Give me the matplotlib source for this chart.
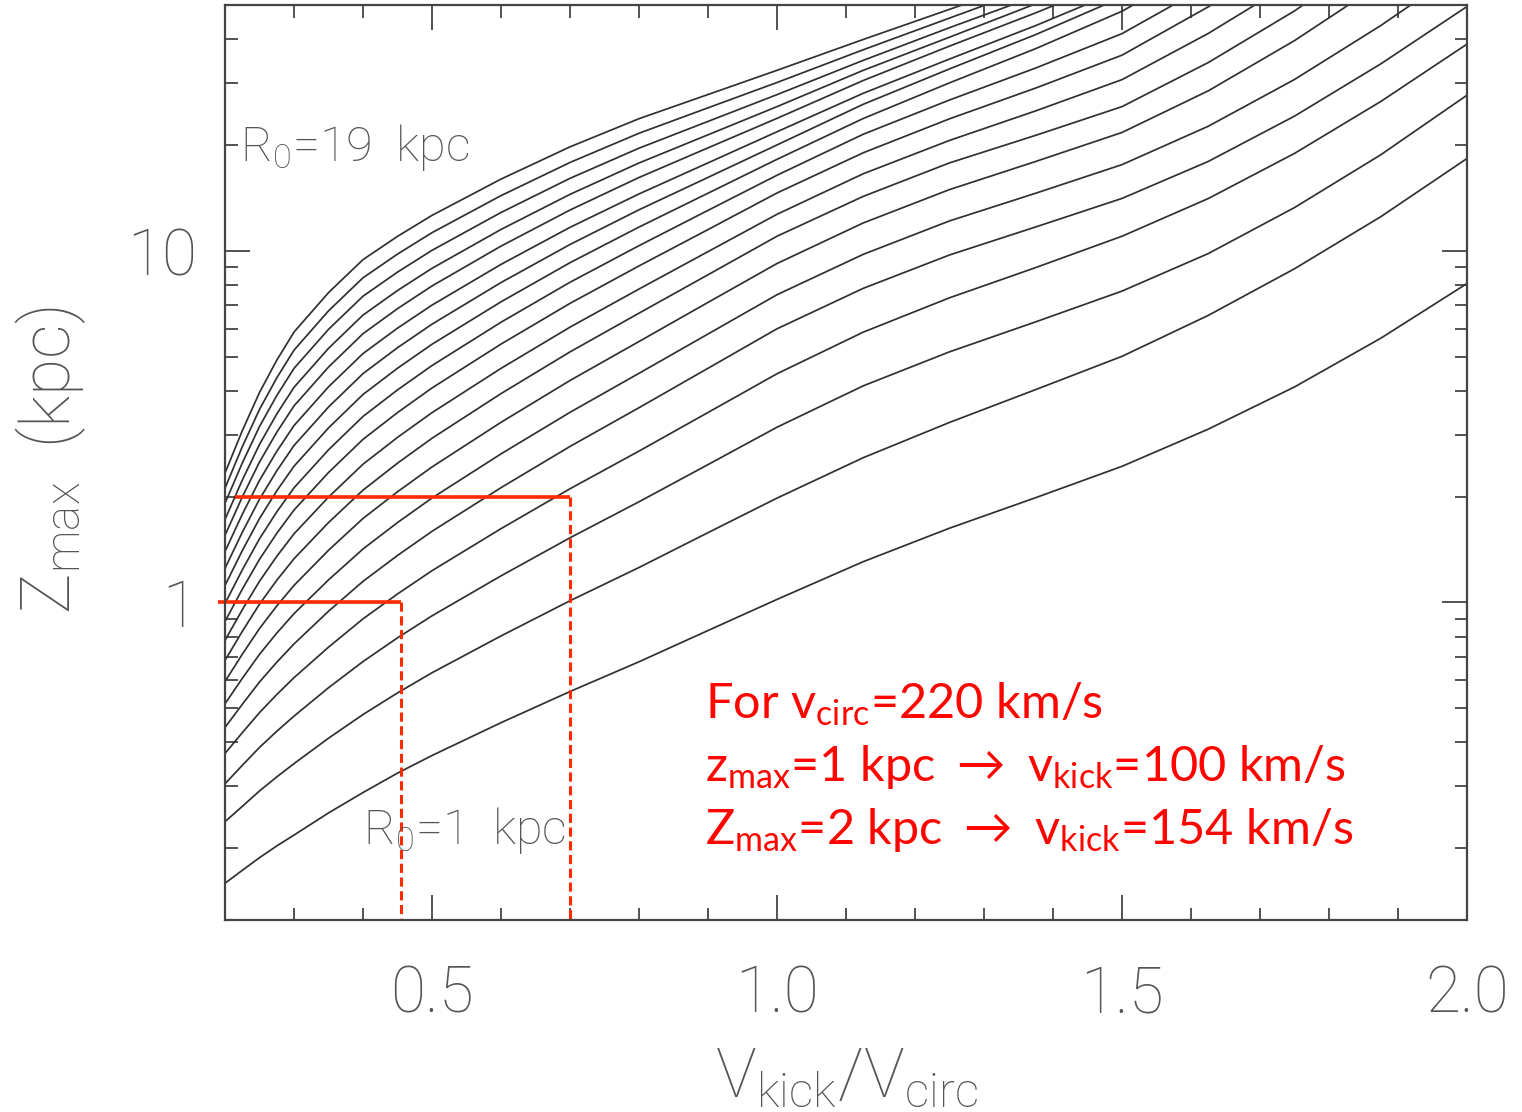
import matplotlib
matplotlib.use('Agg')
import matplotlib.pyplot as plt
from matplotlib.ticker import FixedLocator, FixedFormatter, MultipleLocator, LogLocator, NullFormatter

plt.rcParams['font.family'] = ['Roboto', 'DejaVu Sans']
plt.rcParams['mathtext.default'] = 'regular'

nan = float('nan')

# v_kick / v_circ sample points
ratio = [0.2, 0.225, 0.25, 0.275, 0.3, 0.35, 0.4, 0.45, 0.5, 0.6, 0.7, 0.8, 0.9, 1.0,
         1.125, 1.25, 1.375, 1.5, 1.625, 1.75, 1.875, 2.0]

# maximum height z_max (kpc) reached for launch radius R0 = 1 ... 19 kpc
zmax_r1 = [0.159, 0.173, 0.188, 0.203, 0.218, 0.252, 0.288, 0.327, 0.367, 0.455, 0.558, 0.678, 0.832, 1.02,
           1.306, 1.626, 1.986, 2.438, 3.11, 4.10, 5.64, 8.07]
zmax_r2 = [0.238, 0.263, 0.291, 0.319, 0.348, 0.411, 0.480, 0.553, 0.631, 0.803, 1.011, 1.257, 1.579, 1.98,
           2.58, 3.25, 4.03, 5.01, 6.55, 8.89, 12.5, 18.3]
zmax_r3 = [0.305, 0.344, 0.387, 0.430, 0.475, 0.572, 0.679, 0.793, 0.916, 1.190, 1.527, 1.933, 2.466, 3.15,
           4.13, 5.16, 6.28, 7.68, 9.82, 13.27, 18.75, 27.7]
zmax_r4 = [0.372, 0.426, 0.486, 0.547, 0.611, 0.746, 0.898, 1.057, 1.231, 1.621, 2.105, 2.694, 3.469, 4.47,
           5.87, 7.35, 8.96, 11.0, 14.08, 18.92, 26.58, 38.7]
zmax_r5 = [0.441, 0.513, 0.594, 0.676, 0.762, 0.944, 1.148, 1.360, 1.593, 2.120, 2.777, 3.579, 4.633, 6.0,
           7.82, 9.73, 11.69, 14.09, 17.95, 24.15, 34.0, 49.5]
zmax_r6 = [0.515, 0.608, 0.712, 0.818, 0.929, 1.159, 1.419, 1.687, 1.981, 2.645, 3.472, 4.483, 5.799, 7.5,
           9.77, 12.16, 14.58, 17.58, 22.6, 30.7, 43.7, 64.4]
zmax_r7 = [0.596, 0.712, 0.843, 0.977, 1.118, 1.407, 1.733, 2.064, 2.428, 3.252, 4.277, 5.521, 7.132, 9.2,
           12.0, 14.93, 17.95, 21.7, 28.5, 39.6, 57.5, nan]
zmax_r8 = [0.684, 0.827, 0.989, 1.156, 1.331, 1.687, 2.086, 2.489, 2.930, 3.925, 5.158, 6.647, 8.547, 11.0,
           14.28, 17.78, 21.3, 25.7, 34.3, 48.1, 71.0, nan]
zmax_r9 = [0.780, 0.953, 1.149, 1.352, 1.567, 1.993, 2.472, 2.947, 3.465, 4.630, 6.065, 7.785, 9.945, 12.7,
           16.56, 20.6, 25.0, 30.67, 41.5, 58.6, nan, nan]
zmax_r10 = [0.883, 1.090, 1.326, 1.572, 1.831, 2.341, 2.909, 3.466, 4.073, 5.428, 7.087, 9.056, 11.49, 14.6,
            19.0, 23.73, 29.03, 36.0, 49.4, 69.8, nan, nan]
zmax_r11 = [0.993, 1.237, 1.517, 1.809, 2.118, 2.716, 3.380, 4.021, 4.717, 6.263, 8.137, 10.34, 13.03, 16.4,
            21.45, 26.84, 33.1, 41.45, 56.9, nan, nan, nan]
zmax_r12 = [1.117, 1.403, 1.732, 2.076, 2.440, 3.135, 3.903, 4.634, 5.422, 7.159, 9.250, 11.68, 14.58, 18.2,
            23.78, 30.03, 37.58, 48.0, 65.8, nan, nan, nan]
zmax_r13 = [1.250, 1.582, 1.966, 2.367, 2.794, 3.595, 4.474, 5.301, 6.184, 8.122, 10.42, 13.08, 16.17, 20.0,
            26.1, 32.9, 41.2, 52.6, nan, nan, nan, nan]
zmax_r14 = [1.396, 1.780, 2.224, 2.689, 3.184, 4.103, 5.102, 6.025, 7.007, 9.148, 11.66, 14.51, 17.78, 21.8,
            28.05, 35.1, 43.7, 55.3, nan, nan, nan, nan]
zmax_r15 = [1.552, 1.994, 2.508, 3.047, 3.621, 4.670, 5.810, 6.846, 7.943, 10.31, 13.06, 16.16, 19.62, 23.8,
            30.5, 38.2, 47.5, 59.8, nan, nan, nan, nan]
zmax_r16 = [1.722, 2.226, 2.814, 3.433, 4.090, 5.279, 6.564, 7.709, 8.915, 11.50, 14.47, 17.77, 21.37, 25.7,
            32.6, 40.5, 50.4, nan, nan, nan, nan, nan]
zmax_r17 = [1.914, 2.490, 3.164, 3.874, 4.629, 5.979, 7.427, 8.697, 10.03, 12.85, 16.07, 19.58, 23.33, 27.8,
            34.8, 43.1, 53.0, nan, nan, nan, nan, nan]
zmax_r18 = [2.113, 2.770, 3.539, 4.350, 5.217, 6.747, 8.379, 9.786, 11.26, 14.35, 17.83, 21.59, 25.50, 30.1,
            37.3, 45.9, 56.4, nan, nan, nan, nan, nan]
zmax_r19 = [2.333, 3.077, 3.954, 4.884, 5.873, 7.603, 9.438, 10.99, 12.61, 15.99, 19.75, 23.75, 27.82, 32.6,
            39.9, 48.6, 59.1, nan, nan, nan, nan, nan]

curves = [zmax_r1, zmax_r2, zmax_r3, zmax_r4, zmax_r5, zmax_r6, zmax_r7,
          zmax_r8, zmax_r9, zmax_r10, zmax_r11, zmax_r12, zmax_r13,
          zmax_r14, zmax_r15, zmax_r16, zmax_r17, zmax_r18, zmax_r19]

# example kicks for v_circ = 220 km/s
vcirc = 220.0
vkick = [100.0, 154.0]
zmark = [1.0, 2.0]
zline_start = [0.19, 0.215]

xticks = [0.5, 1.0, 1.5, 2.0]
xticklabels = ['0.5', '1.0', '1.5', '2.0']
yticks = [1, 10]
yticklabels = ['1', '10']

fig = plt.figure(figsize=(15.22, 11.12), dpi=100)
ax = fig.add_axes([225 / 1522, 1 - 920 / 1112, (1467 - 225) / 1522, (920 - 5) / 1112])

for z in curves:
    ax.plot(ratio, z, color='#303030', lw=1.25)

ax.set_yscale('log')
ax.set_xlim(0.2, 2.0)
ax.set_ylim(0.125, 50)

ax.xaxis.set_major_locator(FixedLocator(xticks))
ax.xaxis.set_major_formatter(FixedFormatter(xticklabels))
ax.xaxis.set_minor_locator(MultipleLocator(0.1))
ax.yaxis.set_major_locator(FixedLocator(yticks))
ax.yaxis.set_major_formatter(FixedFormatter(yticklabels))
ax.yaxis.set_minor_locator(LogLocator(base=10, subs=range(2, 10)))
ax.yaxis.set_minor_formatter(NullFormatter())

ax.tick_params(which='both', direction='in', top=True, right=True,
               color='#444444', width=1.3, labelcolor='#555555', labelsize=46)
ax.tick_params(which='major', length=18)
ax.tick_params(which='minor', length=9)
ax.tick_params(axis='x', pad=31)
ax.tick_params(axis='y', pad=20)
for lab in ax.get_xticklabels() + ax.get_yticklabels():
    lab.set_fontweight('light')
for sp in ax.spines.values():
    sp.set_color('#444444')
    sp.set_linewidth(1.6)

# red guide lines
red = '#ff2a00'
for vk, zm, x0 in zip(vkick, zmark, zline_start):
    xr = vk / vcirc
    ax.plot([x0, xr], [zm, zm], color=red, lw=2.6, clip_on=False, solid_capstyle='butt')
    ax.plot([xr, xr], [zm, 0.125], color=red, lw=2.2, ls=(0, (3, 1.5)), clip_on=False)

grey = '#555555'
ax.text(0.222, 19.7, 'R$_0$=19  kpc', fontsize=35, color=grey, fontweight='light',
        ha='left', va='center')
ax.text(0.40, 0.224, 'R$_0$=1  kpc', fontsize=35, color=grey, fontweight='light',
        ha='left', va='center')

fig.text(846 / 1522, 1 - 1097 / 1112, 'V$_{kick}$/V$_{circ}$', fontsize=49,
         color=grey, fontweight='light', ha='center', va='baseline')
fig.text(70 / 1522, 1 - 460 / 1112, 'Z$_{max}$  (kpc)', fontsize=49, color=grey,
         fontweight='light', rotation=90, rotation_mode='anchor',
         ha='center', va='baseline')

notes = ['For v$_{circ}$=220 km/s',
         'z$_{max}$=1 kpc $\\rightarrow$ v$_{kick}$=100 km/s',
         'Z$_{max}$=2 kpc $\\rightarrow$ v$_{kick}$=154 km/s']
for i, s in enumerate(notes):
    fig.text(705 / 1522, 1 - (718 + 63 * i) / 1112, s, fontsize=35,
             color='#ff0500', family=['Lato', 'DejaVu Sans'], ha='left', va='baseline')

fig.savefig('out.png', dpi=100)
